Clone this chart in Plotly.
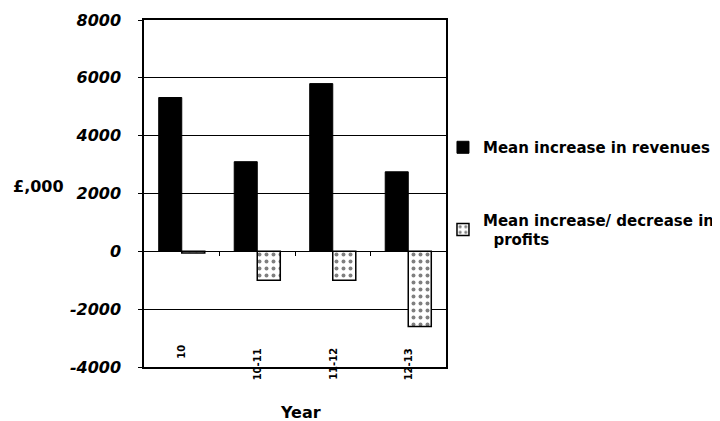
import plotly.graph_objects as go

categories = ["10", "10-11", "11-12", "12-13"]
revenues = [5320, 3100, 5800, 2750]
profits = [-60, -1000, -1000, -2600]
series_names = ["Mean increase in revenues", "Mean increase/ decrease in<br>&nbsp;&nbsp;profits"]
y_ticks = [-4000, -2000, 0, 2000, 4000, 6000, 8000]

FONT = "DejaVu Sans"

fig = go.Figure()
fig.add_trace(go.Bar(
    x=list(range(len(categories))), y=revenues, name=series_names[0],
    marker=dict(color="black", line=dict(color="black", width=1)),
    legendgroup="a",
))
fig.add_trace(go.Bar(
    x=list(range(len(categories))), y=profits, name=series_names[1],
    marker=dict(color="white", line=dict(color="black", width=1.5),
                pattern=dict(shape=".", fgcolor="black", bgcolor="white", size=7, solidity=0.25)),
    legendgroup="b",
))
# invisible trace to activate xaxis2 (tick marks on the zero line)
fig.add_trace(go.Scatter(x=[0], y=[0], xaxis="x2", mode="markers",
                         marker=dict(opacity=0), showlegend=False, hoverinfo="skip"))

# category labels drawn inside the plot near the bottom, rotated
label_y = [-3480, -3900, -3900, -3900]
for i, (c, yv) in enumerate(zip(categories, label_y)):
    fig.add_annotation(x=i, y=yv, text=f"<b>{c}</b>", textangle=-90, showarrow=False,
                       font=dict(family=FONT, size=10, color="black"),
                       xanchor="center", yanchor="middle")

fig.add_annotation(xref="paper", yref="paper", x=-0.348, y=0.519, text="<b>£,000</b>",
                   showarrow=False, font=dict(family=FONT, size=16, color="black"),
                   xanchor="center", yanchor="middle")
fig.add_annotation(xref="paper", yref="paper", x=0.517, y=-0.13, text="<b>Year</b>",
                   showarrow=False, font=dict(family=FONT, size=16, color="black"),
                   xanchor="center", yanchor="middle")

fig.update_layout(
    width=712, height=413,
    margin=dict(l=136, r=274, t=12, b=54, autoexpand=False),
    paper_bgcolor="white", plot_bgcolor="white",
    barmode="group", bargap=0.39, bargroupgap=0,
    font=dict(family=FONT, size=15, color="black"),
    showlegend=True,
    legend=dict(x=0.99, y=0.68, xanchor="left", yanchor="top",
                font=dict(family=FONT, size=15, color="black", weight="bold"),
                traceorder="grouped", tracegroupgap=50,
                itemwidth=30, bgcolor="rgba(0,0,0,0)"),
    xaxis=dict(type="linear", showticklabels=False, showline=True, linecolor="black",
               linewidth=1.5, mirror=True, ticks="", showgrid=False, zeroline=False,
               range=[-0.5, 3.5]),
    xaxis2=dict(type="linear", overlaying="x", anchor="free", position=1/3, range=[-0.5, 3.5],
                tickvals=[0.5, 1.5, 2.5], ticks="outside", ticklen=4, tickcolor="black",
                showticklabels=False, showline=False, showgrid=False, zeroline=False),
    yaxis=dict(range=[-4000, 8000], tickvals=y_ticks,
               ticktext=[f"<b><i>{v}</i></b>" for v in y_ticks],
               showgrid=True, gridcolor="black", gridwidth=1,
               zeroline=True, zerolinecolor="black", zerolinewidth=1,
               showline=True, linecolor="black", linewidth=1.5, mirror=True,
               ticks="outside", ticklen=4, tickcolor="black", ticklabelstandoff=14,
               tickfont=dict(family=FONT, size=16, color="black")),
)

fig.write_html("out.html")
